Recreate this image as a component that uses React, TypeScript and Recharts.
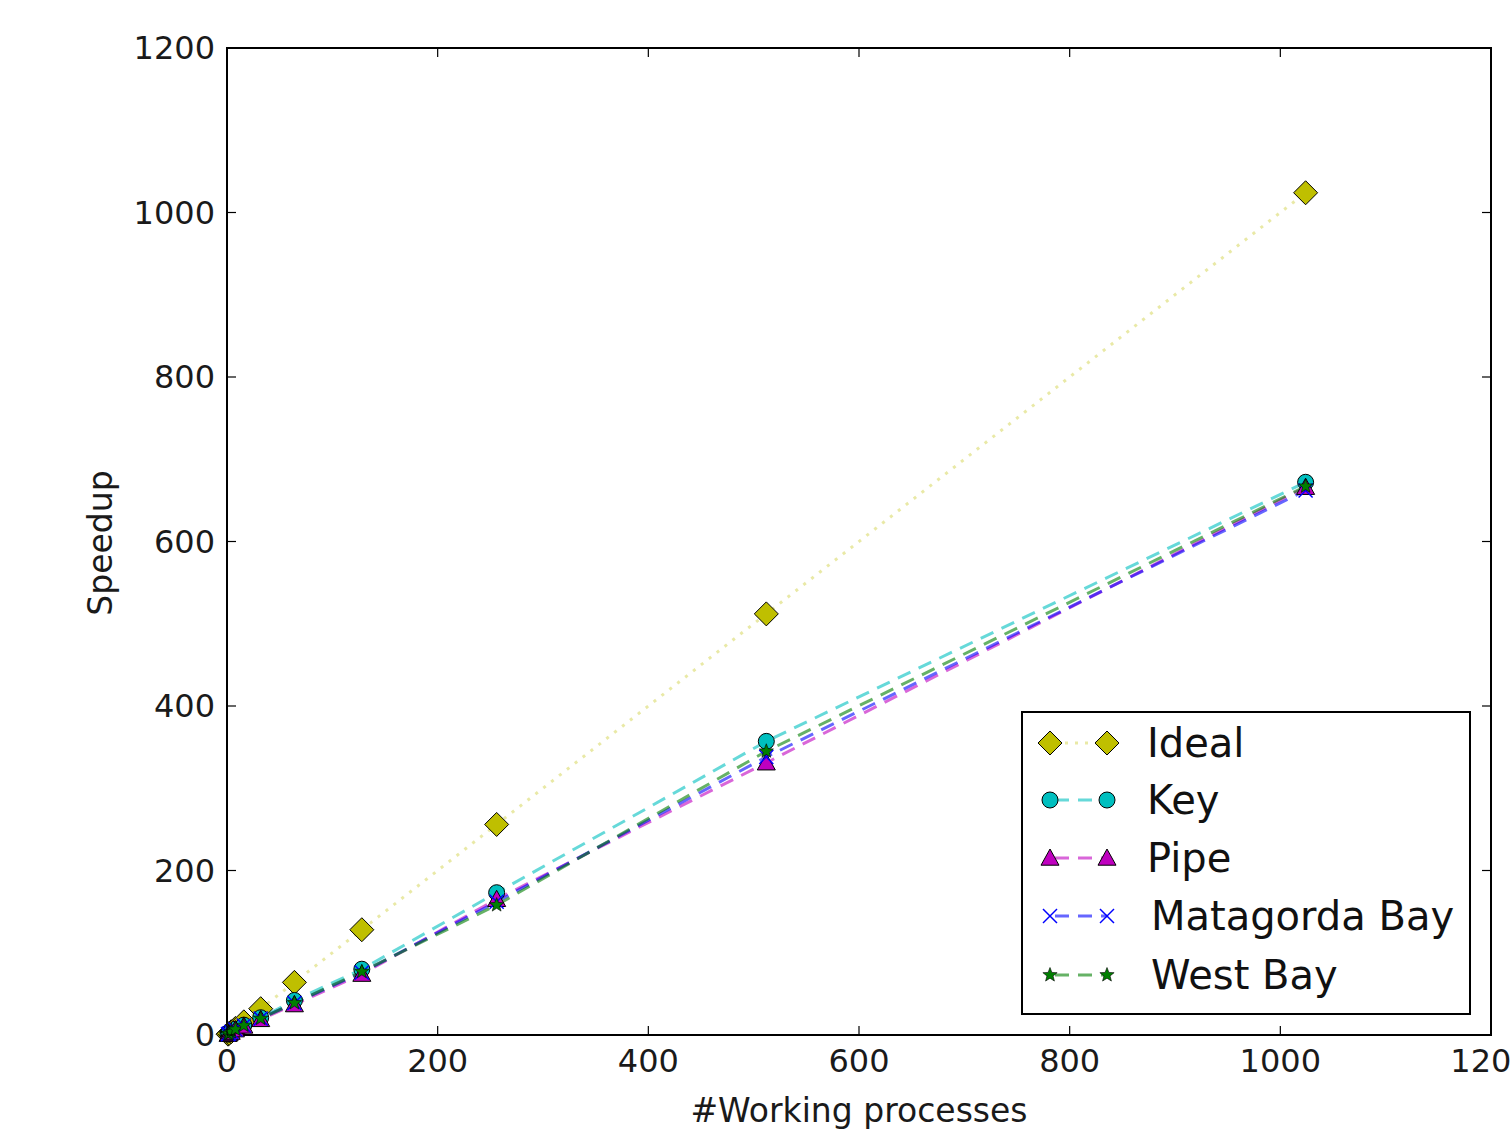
import React from 'react'
import { ComposedChart, Line, XAxis, YAxis, ReferenceArea, Legend } from 'recharts'

const processes = [1, 2, 4, 8, 16, 32, 64, 128, 256, 512, 1024]
const ideal = [1, 2, 4, 8, 16, 32, 64, 128, 256, 512, 1024]
const key = [1, 1.9, 3.7, 7, 12, 21, 42, 80, 173, 357, 672]
const pipe = [1, 1.8, 3.5, 6.5, 11, 19, 37, 74, 165, 331, 666]
const matagorda = [1, 1.8, 3.6, 6.8, 11.5, 20, 39, 76, 162, 338, 662]
const westBay = [1, 1.8, 3.6, 6.8, 11.5, 20, 39, 77, 158, 345, 667]
const xTicks = [0, 200, 400, 600, 800, 1000, 1200]
const yTicks = [0, 200, 400, 600, 800, 1000, 1200]

const data = processes.map((p, i) => ({
  p,
  ideal: ideal[i],
  key: key[i],
  pipe: pipe[i],
  matagorda: matagorda[i],
  westBay: westBay[i],
}))

const W = 1510
const H = 1135
const TOP = 48
const BOTTOM = 1035
const LEFT = 227
const RIGHT = 1491
const TICK = 9
const FONT = 'DejaVu Sans, sans-serif'

type Shape = 'diamond' | 'circle' | 'triangle' | 'x' | 'star'

const series: { dataKey: string; name: string; color: string; shape: Shape; dash: string; opacity: number }[] = [
  { dataKey: 'ideal', name: 'Ideal', color: '#bfbf00', shape: 'diamond', dash: '3 7', opacity: 0.35 },
  { dataKey: 'key', name: 'Key', color: '#00bfbf', shape: 'circle', dash: '14 9', opacity: 0.6 },
  { dataKey: 'pipe', name: 'Pipe', color: '#bf00bf', shape: 'triangle', dash: '14 9', opacity: 0.6 },
  { dataKey: 'matagorda', name: 'Matagorda Bay', color: '#0000ff', shape: 'x', dash: '14 9', opacity: 0.6 },
  { dataKey: 'westBay', name: 'West Bay', color: '#007f00', shape: 'star', dash: '14 9', opacity: 0.6 },
]

function Marker({ shape, cx, cy, color }: { shape: Shape; cx: number; cy: number; color: string }) {
  if (shape === 'diamond') {
    const s = 12
    return <polygon points={`${cx},${cy - s} ${cx + s},${cy} ${cx},${cy + s} ${cx - s},${cy}`} fill={color} stroke="#000" strokeWidth={1} />
  }
  if (shape === 'circle') return <circle cx={cx} cy={cy} r={8} fill={color} stroke="#000" strokeWidth={1} />
  if (shape === 'triangle') {
    const s = 9
    return <polygon points={`${cx},${cy - s} ${cx + s},${cy + s * 0.8} ${cx - s},${cy + s * 0.8}`} fill={color} stroke="#000" strokeWidth={1} />
  }
  if (shape === 'x') {
    const s = 7
    return (
      <g stroke={color} strokeWidth={1.5}>
        <line x1={cx - s} y1={cy - s} x2={cx + s} y2={cy + s} />
        <line x1={cx - s} y1={cy + s} x2={cx + s} y2={cy - s} />
      </g>
    )
  }
  const pts: string[] = []
  for (let i = 0; i < 10; i++) {
    const r = i % 2 === 0 ? 7.5 : 3.2
    const a = -Math.PI / 2 + (i * Math.PI) / 5
    pts.push(`${cx + r * Math.cos(a)},${cy + r * Math.sin(a)}`)
  }
  return <polygon points={pts.join(' ')} fill={color} stroke="#000" strokeWidth={0.6} />
}

function XTick({ x, payload }: any) {
  return (
    <g>
      <line x1={x} x2={x} y1={BOTTOM} y2={BOTTOM - TICK} stroke="#000" strokeWidth={1.2} />
      <line x1={x} x2={x} y1={TOP} y2={TOP + TICK} stroke="#000" strokeWidth={1.2} />
      <text x={x} y={1072} textAnchor="middle" fontSize={32} fontFamily={FONT} fill="#1a1a1a">{payload.value}</text>
    </g>
  )
}

function YTick({ y, payload }: any) {
  return (
    <g>
      <line x1={LEFT} x2={LEFT + TICK} y1={y} y2={y} stroke="#000" strokeWidth={1.2} />
      <line x1={RIGHT} x2={RIGHT - TICK} y1={y} y2={y} stroke="#000" strokeWidth={1.2} />
      <text x={215} y={y + 11} textAnchor="end" fontSize={32} fontFamily={FONT} fill="#1a1a1a">{payload.value}</text>
    </g>
  )
}

function LegendBox() {
  const rows = [745, 802, 860, 918, 977]
  return (
    <svg width={452} height={306} style={{ display: 'block' }}>
      <rect x={1} y={1} width={448} height={302} fill="#fff" stroke="#000" strokeWidth={2} />
      {series.map((s, i) => {
        const cy = rows[i] - 713
        return (
          <g key={s.dataKey}>
            <line x1={29} x2={86} y1={cy} y2={cy} stroke={s.color} strokeOpacity={s.opacity} strokeWidth={3} strokeDasharray={s.shape === 'diamond' ? '3 7' : '14 9'} strokeDashoffset={-5} />
            <Marker shape={s.shape} cx={29} cy={cy} color={s.color} />
            <Marker shape={s.shape} cx={86} cy={cy} color={s.color} />
            <text x={i >= 3 ? 130 : 126} y={cy + 14} fontSize={40} fontFamily={FONT} fill="#111">{s.name}</text>
          </g>
        )
      })}
    </svg>
  )
}

export default function App() {
  return (
    <div style={{ position: 'absolute', left: 0, top: 0, width: W, height: H, background: '#fff' }}>
      <ComposedChart width={W} height={H} data={data} margin={{ top: TOP, right: W - RIGHT, bottom: 0, left: 0 }}>
        <XAxis
          dataKey="p"
          type="number"
          domain={[0, 1200]}
          ticks={xTicks}
          height={H - BOTTOM}
          axisLine={false}
          tickLine={false}
          tick={<XTick />}
          interval={0}
        />
        <YAxis
          type="number"
          domain={[0, 1200]}
          ticks={yTicks}
          width={LEFT}
          axisLine={false}
          tickLine={false}
          tick={<YTick />}
          interval={0}
        />
        <ReferenceArea x1={0} x2={1200} y1={0} y2={1200} fill="none" fillOpacity={0} stroke="#000" strokeWidth={2} strokeOpacity={1} />
        {series.map((s) => (
          <Line
            key={s.dataKey}
            type="linear"
            dataKey={s.dataKey}
            name={s.name}
            stroke={s.color}
            strokeOpacity={s.opacity}
            strokeWidth={3}
            strokeDasharray={s.dash}
            dot={(p: any) => <Marker key={`${s.dataKey}-${p.index}`} shape={s.shape} cx={p.cx} cy={p.cy} color={s.color} />}
            activeDot={false}
            isAnimationActive={false}
          />
        ))}
        <Legend
          layout="horizontal"
          verticalAlign="middle"
          align="center"
          content={() => <LegendBox />}
          wrapperStyle={{ position: 'absolute', left: 1021, top: 711, width: 452, height: 306 }}
        />
        <text x={859} y={1122} textAnchor="middle" fontSize={33} fontFamily={FONT} fill="#1a1a1a">#Working processes</text>
        <text x={112} y={543} textAnchor="middle" fontSize={33} fontFamily={FONT} fill="#1a1a1a" transform="rotate(-90 112 543)">Speedup</text>
      </ComposedChart>
    </div>
  )
}
